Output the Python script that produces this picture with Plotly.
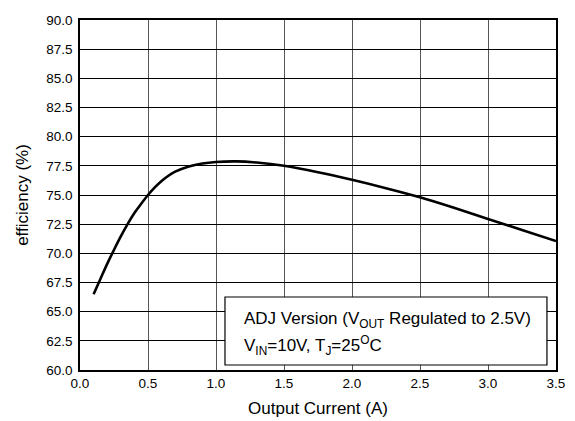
import plotly.graph_objects as go

current = [0.1, 0.15, 0.2, 0.25, 0.3, 0.35, 0.4, 0.45, 0.5, 0.55, 0.6, 0.65, 0.7, 0.8, 0.9,
           1.0, 1.15, 1.3, 1.5, 1.75, 2.0, 2.25, 2.5, 2.75, 3.0, 3.25, 3.5]
efficiency = [66.5, 67.8, 69.1, 70.3, 71.45, 72.5, 73.45, 74.25, 75.0, 75.65, 76.2, 76.65, 77.0,
              77.45, 77.7, 77.83, 77.88, 77.78, 77.5, 76.95, 76.3, 75.58, 74.8, 73.9, 72.95,
              72.0, 71.05]

x_ticks = [0.0, 0.5, 1.0, 1.5, 2.0, 2.5, 3.0, 3.5]
y_ticks = [60.0, 62.5, 65.0, 67.5, 70.0, 72.5, 75.0, 77.5, 80.0, 82.5, 85.0, 87.5, 90.0]

FONT = "Liberation Sans, Arial, sans-serif"

fig = go.Figure()
fig.add_trace(go.Scatter(
    x=current, y=efficiency, mode="lines",
    line=dict(color="black", width=2.6, shape="spline", smoothing=1.0),
    hoverinfo="skip", showlegend=False,
))

fig.update_layout(
    width=567, height=413,
    margin=dict(l=72, r=19, t=12, b=51),
    paper_bgcolor="white", plot_bgcolor="white",
    font=dict(family=FONT, size=13, color="black"),
    showlegend=False,
)
fig.update_xaxes(
    range=[0, 3.5], tickvals=x_ticks, ticktext=[f"{v:.1f}" for v in x_ticks],
    showgrid=True, gridcolor="#555555", gridwidth=1.2,
    showline=True, linecolor="black", linewidth=1.6, mirror=True,
    ticks="", ticklabelstandoff=0, zeroline=False, automargin=False,
    title=dict(text="Output Current (A)", font=dict(size=17), standoff=12),
    tickfont=dict(size=13.5),
)
fig.update_yaxes(
    range=[60, 90], tickvals=y_ticks, ticktext=[f"{v:.1f}" for v in y_ticks],
    showgrid=True, gridcolor="black", gridwidth=1,
    showline=True, linecolor="black", linewidth=1.6, mirror=True,
    ticks="", ticklabelstandoff=3, zeroline=False, automargin=False,
    title=dict(text="efficiency (%)", font=dict(size=17), standoff=13),
    tickfont=dict(size=13.5),
)

fig.add_shape(type="rect", xref="paper", yref="paper",
              x0=0.3046, x1=0.981, y0=0.0143, y1=0.2086,
              fillcolor="white", line=dict(color="black", width=1.2), layer="above")
fig.add_annotation(xref="paper", yref="paper", x=0.341, y=0.1429,
                   xanchor="left", yanchor="middle", showarrow=False,
                   text="ADJ Version (V<sub>OUT</sub> Regulated to 2.5V)",
                   font=dict(size=17, family=FONT, color="black"))
fig.add_annotation(xref="paper", yref="paper", x=0.341, y=0.0686,
                   xanchor="left", yanchor="middle", showarrow=False,
                   text="V<sub>IN</sub>=10V, T<sub>J</sub>=25<sup>O</sup>C",
                   font=dict(size=17, family=FONT, color="black"))

fig.write_html("out.html")
